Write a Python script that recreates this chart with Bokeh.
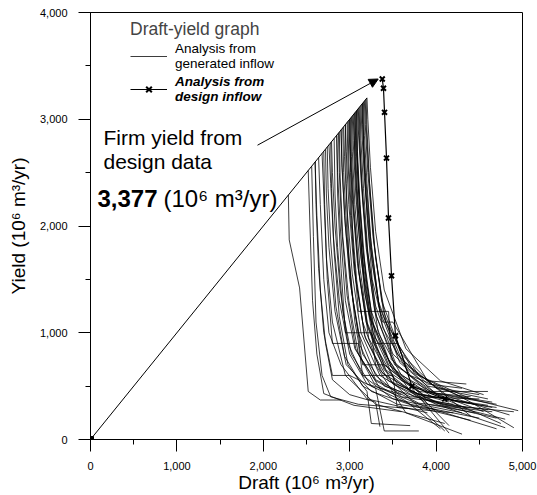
from bokeh.plotting import figure
from bokeh.models import (Legend, LegendItem, Label, Arrow, NormalHead,
                          SingleIntervalTicker, NumeralTickFormatter)
from bokeh.embed import file_html
from bokeh.resources import INLINE

# ---------------- data ----------------
x_ticks = [0, 1000, 2000, 3000, 4000, 5000]
y_ticks = [0, 1000, 2000, 3000, 4000]

envelope_draft = [0, 3200]
envelope_yield = [0, 3200]

design_draft = [3377, 3391, 3403, 3426, 3449, 3484, 3530, 3720, 4100]
design_yield = [3377, 3290, 3065, 2636, 2075, 1533, 972, 500, 380]

firm_yield = 3377

gen_draft = [
    [2290, 2300, 2420, 2520, 2660, 2900],
    [2520, 2540, 2570, 2620, 2700, 3050, 3600],
    [2560, 2580, 2610, 2680, 2780, 3100, 3700],
    [2600, 2620, 2660, 2720, 2800, 3000, 3300, 3350],
    [2640, 2660, 2700, 2760, 2900, 3200, 3900],
    [2680, 2700, 2730, 2800, 2950, 3300, 4100],
    [2720, 2730, 2760, 2830, 2960, 3250, 3800, 4400],
    [2760, 2780, 2810, 2880, 3000, 3200, 3600],
    [2790, 2800, 2830, 2890, 2980, 3150, 3500, 4300],
    [2820, 2830, 2860, 2920, 3020, 3250, 3700, 4500],
    [2850, 2860, 2890, 2950, 3060, 3300, 3800, 4650],
    [2880, 2890, 2920, 2990, 3100, 3350, 3900, 4700],
    [2900, 2910, 2940, 3000, 3100, 3300, 3600, 4200],
    [2920, 2930, 2970, 3040, 3150, 3400, 4000, 4600],
    [2950, 2960, 2990, 3050, 3150, 3350, 3700, 4100],
    [2970, 2980, 3010, 3070, 3180, 3450, 4100, 4900],
    [3000, 3010, 3040, 3100, 3200, 3400, 3800, 4400],
    [3010, 3020, 3050, 3110, 3220, 3500, 4000, 4800],
    [3030, 3040, 3070, 3130, 3230, 3450, 3850, 4650],
    [3050, 3060, 3100, 3170, 3280, 3550, 4100, 4700],
    [3060, 3070, 3100, 3150, 3250, 3450, 3700, 4150],
    [3080, 3090, 3120, 3190, 3300, 3600, 4200, 4700],
    [3100, 3110, 3140, 3200, 3300, 3500, 3900, 4500],
    [3110, 3120, 3150, 3220, 3330, 3600, 4100, 4750],
    [3130, 3140, 3170, 3230, 3330, 3550, 3900, 4300],
    [3150, 3160, 3190, 3260, 3380, 3700, 4300, 4950],
    [3170, 3180, 3210, 3270, 3370, 3600, 4000, 4600],
    [3190, 3200, 3230, 3300, 3420, 3750, 4400, 4900],
    [3200, 3210, 3240, 3300, 3400, 3650, 4050, 4550],
    [2700, 2710, 2740, 2800, 3100, 3150, 3500, 3550, 4200],
    [2850, 2860, 2900, 2950, 3250, 3300, 3650, 4300],
    [3000, 3010, 3040, 3100, 3450, 3480, 3900, 4600],
    [2950, 2960, 2990, 3060, 3150, 3400, 3700, 4150],
    [2600, 2610, 2640, 2700, 2800, 3000, 3300, 3400, 3800],
    [3080, 3090, 3120, 3180, 3300, 3550, 3800, 4400],
    [2780, 2790, 2820, 2880, 2980, 3200, 3250, 3700],
    [3150, 3160, 3200, 3260, 3380, 3500, 3900, 4350],
    [2900, 2910, 2950, 3020, 3120, 3300, 3700, 4500],
    [2990, 3000, 3030, 3090, 3190, 3420, 3850, 4450],
    [3020, 3030, 3060, 3120, 3210, 3400, 3750, 4250],
    [3040, 3050, 3080, 3140, 3240, 3480, 3950, 4600],
    [3070, 3080, 3110, 3160, 3260, 3500, 3900, 4800],
    [3090, 3100, 3130, 3190, 3290, 3520, 4000, 4550],
    [3120, 3130, 3160, 3210, 3310, 3540, 3950, 4650],
    [3140, 3150, 3180, 3240, 3340, 3600, 4050, 4400],
    [3160, 3170, 3200, 3250, 3350, 3580, 4000, 4700],
    [3180, 3190, 3220, 3280, 3390, 3650, 4150, 4850],
    [2870, 2880, 2910, 2970, 3070, 3280, 3650, 4050],
    [2930, 2940, 2970, 3030, 3130, 3350, 3750, 4350],
    [2980, 2990, 3020, 3080, 3170, 3380, 3800, 4150],
    [2740, 2750, 2780, 2840, 2940, 3150, 3550, 4000],
    [3060, 3070, 3100, 3160, 3270, 3520, 3900, 4450],
]
gen_yield = [
    [2290, 1870, 1420, 450, 370, 370],
    [2520, 2000, 1300, 800, 430, 320, 260],
    [2560, 1900, 1100, 600, 400, 330, 290],
    [2600, 2100, 1400, 900, 560, 420, 350, 120],
    [2640, 2200, 1500, 1000, 700, 380, 250],
    [2680, 2300, 1700, 1100, 600, 330, 150],
    [2720, 2300, 1800, 1200, 700, 450, 300, 180],
    [2760, 2400, 1900, 1300, 800, 520, 420],
    [2790, 2500, 2000, 1400, 900, 600, 380, 250],
    [2820, 2300, 1800, 1200, 800, 500, 330, 200],
    [2850, 2500, 2000, 1300, 850, 550, 340, 260],
    [2880, 2450, 1900, 1300, 800, 480, 300, 100],
    [2900, 2600, 2100, 1500, 1000, 600, 400, 330],
    [2920, 2500, 1900, 1300, 800, 500, 340, 280],
    [2950, 2700, 2200, 1600, 1100, 650, 380, 80],
    [2970, 2600, 2100, 1500, 950, 550, 320, 260],
    [3000, 2700, 2200, 1600, 1100, 700, 450, 400],
    [3010, 2650, 2150, 1550, 950, 520, 330, 110],
    [3030, 2800, 2300, 1700, 1150, 700, 420, 300],
    [3050, 2600, 2000, 1400, 900, 520, 310, 200],
    [3060, 2800, 2350, 1800, 1200, 750, 450, 350],
    [3080, 2700, 2200, 1500, 950, 550, 360, 300],
    [3100, 2850, 2400, 1800, 1250, 800, 500, 420],
    [3110, 2750, 2250, 1600, 1000, 600, 380, 150],
    [3130, 2900, 2450, 1850, 1300, 800, 520, 480],
    [3150, 2800, 2300, 1650, 1050, 600, 400, 270],
    [3170, 2950, 2500, 1900, 1300, 800, 480, 380],
    [3190, 2900, 2400, 1700, 1100, 620, 350, 110],
    [3200, 3000, 2550, 1950, 1400, 850, 550, 420],
    [2700, 2200, 1500, 900, 900, 600, 600, 300, 250],
    [2850, 2300, 1600, 1000, 1000, 700, 250, 50],
    [3000, 2500, 1800, 1200, 1200, 750, 450, 450],
    [2950, 2400, 1700, 1100, 700, 700, 500, 60],
    [2600, 2200, 1600, 1000, 600, 600, 480, 80, 80],
    [3080, 2600, 2000, 1350, 900, 900, 600, 380],
    [2780, 2350, 1750, 1150, 700, 450, 150, 130],
    [3150, 2700, 2100, 1500, 1100, 1100, 550, 520],
    [2900, 2550, 2000, 1400, 880, 560, 400, 380],
    [2990, 2750, 2250, 1650, 1100, 650, 420, 330],
    [3020, 2700, 2200, 1600, 1050, 650, 430, 360],
    [3040, 2850, 2350, 1750, 1150, 680, 400, 320],
    [3070, 2750, 2300, 1700, 1100, 650, 370, 190],
    [3090, 2900, 2450, 1800, 1200, 700, 430, 260],
    [3120, 2800, 2350, 1750, 1150, 700, 440, 350],
    [3140, 2950, 2500, 1900, 1250, 750, 450, 220],
    [3160, 2850, 2400, 1800, 1200, 720, 430, 330],
    [3180, 2950, 2500, 1850, 1200, 700, 400, 230],
    [2870, 2500, 1950, 1350, 850, 530, 360, 100],
    [2930, 2650, 2150, 1550, 1000, 600, 400, 300],
    [2980, 2600, 2100, 1500, 980, 620, 420, 130],
    [2740, 2350, 1850, 1250, 780, 500, 330, 280],
    [3060, 2650, 2150, 1550, 1000, 560, 330, 250],
]

legend_title = "Draft-yield graph"
legend_gen = "Analysis from\ngenerated inflow"
legend_design = "Analysis from\ndesign inflow"
note_line1 = "Firm yield from"
note_line2 = "design data"
note_value = "3,377"
note_unit = "(10\u2076 m\u00b3/yr)"
x_title = "Draft (10\u2076 m\u00b3/yr)"
y_title = "Yield (10\u2076 m\u00b3/yr)"

FONT = "Liberation Sans"

# ---------------- figure ----------------
p = figure(width=537, height=495, x_range=(0, 5000), y_range=(0, 4000),
           output_backend="svg", toolbar_location=None,
           min_border_left=90, min_border_right=15, min_border_top=12,
           min_border_bottom=55)
p.xgrid.visible = False
p.ygrid.visible = False
p.outline_line_color = "black"
p.outline_line_width = 1
p.background_fill_color = "white"
p.border_fill_color = "white"

for ax, ticks in ((p.xaxis[0], x_ticks), (p.yaxis[0], y_ticks)):
    ax.ticker = SingleIntervalTicker(interval=ticks[1] - ticks[0], num_minor_ticks=2)
    ax.formatter = NumeralTickFormatter(format="0,0")
    ax.major_tick_out = 12
    ax.major_tick_in = 0
    ax.minor_tick_out = 5
    ax.minor_tick_in = 0
    ax.axis_line_color = "black"
    ax.major_tick_line_color = "black"
    ax.minor_tick_line_color = "black"
    ax.major_label_text_font = FONT
    ax.major_label_text_font_size = "11px"
    ax.major_label_text_color = "black"
    ax.axis_label_text_font = FONT
    ax.axis_label_text_font_style = "normal"
    ax.axis_label_text_font_size = "19px"
    ax.axis_label_text_color = "black"

p.xaxis.axis_label = x_title
p.yaxis.axis_label = y_title
p.xaxis.major_label_standoff = 10
p.xaxis.axis_label_standoff = -1
p.yaxis.major_label_standoff = 11
p.yaxis.axis_label_standoff = 8

# envelope (draft = yield)
p.line(envelope_draft, envelope_yield, line_color="black", line_width=1)
p.scatter(envelope_draft[:1], envelope_yield[:1], marker="square", size=6,
          color="black")

# generated inflow curves
gen_r = p.multi_line(gen_draft, gen_yield, line_color="black",
                     line_width=0.85, line_alpha=0.9)

# design inflow curve
des_line = p.line(design_draft, design_yield, line_color="black", line_width=1.2)
des_pts = p.scatter(design_draft, design_yield, marker="x", size=7,
                    line_width=2, line_color="black")

# annotation
p.add_layout(Arrow(end=NormalHead(size=9, fill_color="black", line_color="black"),
                   x_start=1933, y_start=2757,
                   x_end=firm_yield - 47, y_end=firm_yield,
                   line_color="black", line_width=1))
for txt, xx, yy, style, size in ((note_line1, 150, 2831, "normal", "21px"),
                                 (note_line2, 150, 2607, "normal", "21px"),
                                 (note_value, 81, 2261, "bold", "24px"),
                                 (note_unit, 845, 2261, "normal", "24px")):
    p.add_layout(Label(x=xx, y=yy, text=txt, text_font=FONT,
                       text_font_size=size, text_font_style=style,
                       text_color="black", text_baseline="alphabetic"))

# legends
def mk_legend(items, loc, **kw):
    lg = Legend(items=items, location=loc, padding=0, margin=0, spacing=0,
                glyph_width=37, glyph_height=20, label_standoff=8,
                label_text_font=FONT, label_text_font_size="13.5px",
                label_text_color="black", background_fill_alpha=0,
                border_line_alpha=0, **kw)
    return lg

leg1 = mk_legend([LegendItem(label=legend_gen, renderers=[gen_r])], (40, 368),
                 title=legend_title)
leg1.label_text_line_height = 1.35
leg1.title_text_font = FONT
leg1.title_text_font_size = "17.5px"
leg1.title_text_font_style = "normal"
leg1.title_standoff = 1
leg2 = mk_legend([LegendItem(label=legend_design, renderers=[des_line, des_pts])],
                 (40, 335))
leg2.label_text_font_style = "bold italic"
p.add_layout(leg1)
p.add_layout(leg2)

open("out.html", "w").write(file_html(p, INLINE))
